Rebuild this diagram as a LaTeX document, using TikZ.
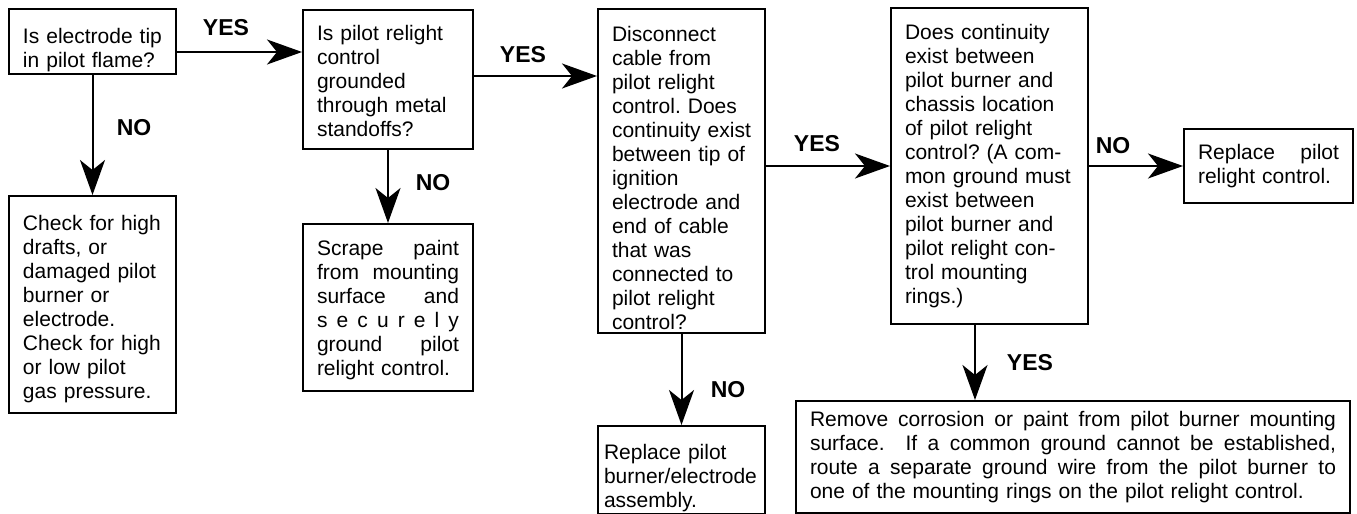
\documentclass[tikz,border=0pt]{standalone}
\usepackage{fontspec}
\setmainfont{Liberation Sans}
\usetikzlibrary{arrows.meta}
\newcommand{\jline}[1]{\makebox[\hsize][s]{\spaceskip=0pt\xspaceskip=0pt\relax#1}}
\tikzset{box/.style={draw, line width=1pt, anchor=north west, inner xsep=7pt, inner ysep=0pt,
		align=left, font=\fontsize{10.5}{12}\selectfont\frenchspacing},
	down/.style={execute at begin node={\rule{0pt}{#1}}},
	flow/.style={line width=1pt, -{Stealth[length=17.5pt, width=12.5pt, inset=5pt]}},
	answer/.style={font=\fontsize{11.5}{12}\selectfont\bfseries}}

\begin{document}
\begin{tikzpicture}[x=0.5pt, y=-0.5pt]
		\useasboundingbox (0,0) rectangle (1357,514);
		\node[box, down=16.5pt, text width=69.5pt, minimum height=32.5pt] (q1) at (8,8)
			{Is electrode tip\\in pilot flame?};
		\node[box, down=9.5pt, text width=71pt, minimum height=69.5pt] (q2) at (302,9)
			{Is pilot relight\\control\\grounded\\through metal\\standoffs?};
		\node[box, down=14.5pt, text width=69.5pt, minimum height=162pt] (q3) at (597,8)
			{Disconnect\\cable from\\pilot relight\\control. Does\\continuity exist\\between tip of\\ignition\\electrode and\\end of cable\\that was\\connected to\\pilot relight\\control?};
		\node[box, text width=84.5pt, minimum height=158pt] (q4) at (890,7)
			{Does continuity\\exist between\\pilot burner and\\chassis location\\of pilot relight\\control? (A com-\\mon ground must\\exist between\\pilot burner and\\pilot relight con-\\trol mounting\\rings.)};
		\node[box, down=12.5pt, text width=69.5pt, minimum height=108.5pt] (a1) at (8,195)
			{Check for high\\drafts, or\\damaged pilot\\burner or\\electrode.\\Check for high\\or low pilot\\gas pressure.};
		\node[box, down=10.5pt, text width=71pt, minimum height=83.5pt] (a2) at (302,223)
			{\jline{Scrape paint}\\\jline{from mounting}\\\jline{surface and}\\\jline{s e c u r e l y}\\\jline{ground pilot}\\relight control.};
		\node[box, down=15.5pt, inner xsep=3pt, text width=77.5pt, minimum height=44pt] (a3) at (597,425)
			{Replace pilot\\burner/electrode\\assembly.};
		\node[box, text width=70.5pt, minimum height=37pt] (a4) at (1183,128)
			{\jline{Replace pilot}\\relight control.};
		\node[box, text width=263pt, minimum height=56pt] (a5) at (795,400)
			{\jline{Remove corrosion or paint from pilot burner mounting}\\
			\jline{surface.\ \ If a common ground cannot be established,}\\
			\jline{route a separate ground wire from the pilot burner to}\\
			one of the mounting rings on the pilot relight control.};
		
		\draw[flow] (q1.east |- 0,52) -- (q2.west |- 0,52);
		\draw[flow] (q2.east |- 0,76) -- (q3.west |- 0,76);
		\draw[flow] (q3.east |- 0,166) -- (q4.west |- 0,166);
		\draw[flow] (q4.east |- 0,166) -- (a4.west |- 0,166);
		\draw[flow] (q1) -- (a1);
		\draw[flow] (q2) -- (a2);
		\draw[flow] (q3) -- (a3);
		\draw[flow] (q4.south -| 975,0) -- (a5.north -| 975,0);
		
		\node[answer] (y1) at (226,28) {YES};
		\node[answer] (y2) at (523,55) {YES};
		\node[answer] (y3) at (817,144) {YES};
		\node[answer] (y4) at (1030,363) {YES};
		\node[answer] (n1) at (134,128) {NO};
		\node[answer] (n2) at (433,183) {NO};
		\node[answer] (n3) at (728,390) {NO};
		\node[answer] (n4) at (1113,146) {NO};
		\end{tikzpicture}
\end{document}
